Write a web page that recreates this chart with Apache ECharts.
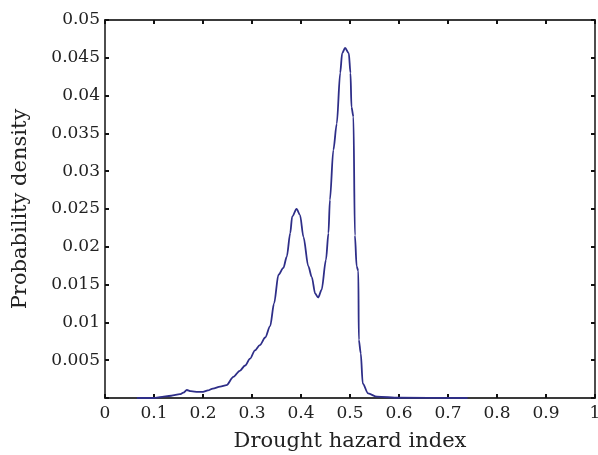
<!DOCTYPE html>
<html>
<head>
<meta charset="utf-8">
<script src="https://cdn.jsdelivr.net/npm/echarts@6/dist/echarts.min.js"></script>
<style>
html,body{margin:0;padding:0;background:#fff;}
#chart{width:598px;height:455px;}
</style>
</head>
<body>
<div id="chart"></div>
<script>
var hazardIndex = [0.065,0.10,0.112,0.135,0.153,0.160,0.167,0.175,0.19,0.20,0.21,0.22,0.235,0.248,0.262,0.275,0.286,0.296,0.306,0.316,0.327,0.337,0.345,0.354,0.364,0.371,0.378,0.382,0.391,0.398,0.405,0.415,0.422,0.429,0.435,0.442,0.451,0.456,0.459,0.466,0.473,0.480,0.484,0.490,0.4975,0.501,0.503,0.507,0.510,0.5136,0.517,0.518,0.522,0.526,0.537,0.555,0.6,0.74];
var density = [0,0,0.0001,0.0003,0.0005,0.0007,0.00106,0.0009,0.0008,0.0008,0.001,0.00125,0.0015,0.0017,0.0028,0.0036,0.0043,0.0052,0.0063,0.0070,0.0080,0.0095,0.0125,0.0163,0.0172,0.0187,0.0218,0.0240,0.0250,0.0242,0.0213,0.0174,0.0160,0.0138,0.0133,0.0143,0.0183,0.0218,0.0262,0.0328,0.0363,0.0430,0.0456,0.0463,0.0456,0.0430,0.0385,0.0372,0.0215,0.0174,0.0168,0.0077,0.0059,0.0019,0.0006,0.00017,0.00003,0];
var xTitle = 'Drought hazard index';
var yTitle = 'Probability density';

var pts = hazardIndex.map(function(x, i){ return [x, density[i]]; });
var font = "'DejaVu Serif', 'Liberation Serif', serif";
var axisColor = '#3a3a3a';

function fmtX(v){ return v === 0 ? '0' : String(Math.round(v*10)/10); }
function fmtY(v){ return v === 0 ? '' : String(Math.round(v*1000)/1000); }

var chart = echarts.init(document.getElementById('chart'), null, {renderer:'canvas'});
chart.setOption({
  animation:false,
  backgroundColor:'#fff',
  grid:{left:105, right:3, top:20, bottom:57, containLabel:false, outerBoundsMode:'none'},
  xAxis:[{
    type:'value', min:0, max:1, interval:0.1, position:'bottom',
    name:xTitle, nameLocation:'middle', nameGap:33,
    nameTextStyle:{fontFamily:font, fontSize:21, color:'#222'},
    axisLine:{show:true, lineStyle:{color:axisColor, width:1.8}},
    axisTick:{show:true, inside:true, length:4, lineStyle:{color:'#111', width:2}},
    axisLabel:{fontFamily:font, fontSize:17, color:'#222', margin:7, formatter:fmtX, showMaxLabel:true, showMinLabel:true},
    splitLine:{show:false}
  },{
    type:'value', min:0, max:1, interval:0.1, position:'top',
    axisLine:{show:true, onZero:false, lineStyle:{color:axisColor, width:1.8}},
    axisTick:{show:true, inside:true, length:4, lineStyle:{color:'#111', width:2}},
    axisLabel:{show:false}, splitLine:{show:false}
  }],
  yAxis:[{
    type:'value', min:0, max:0.05, interval:0.005, position:'left',
    name:yTitle, nameLocation:'middle', nameGap:74,
    nameTextStyle:{fontFamily:font, fontSize:21, color:'#222'},
    axisLine:{show:true, lineStyle:{color:axisColor, width:1.8}},
    axisTick:{show:true, inside:true, length:4, lineStyle:{color:'#111', width:2}},
    axisLabel:{fontFamily:font, fontSize:17, color:'#222', margin:5, formatter:fmtY, showMaxLabel:true},
    splitLine:{show:false}
  },{
    type:'value', min:0, max:0.05, interval:0.005, position:'right',
    axisLine:{show:true, onZero:false, lineStyle:{color:axisColor, width:1.8}},
    axisTick:{show:true, inside:true, length:4, lineStyle:{color:'#111', width:2}},
    axisLabel:{show:false}, splitLine:{show:false}
  }],
  series:[{
    type:'line', data:pts, xAxisIndex:0, yAxisIndex:0,
    showSymbol:false, smooth:0.3, smoothMonotone:'x',
    lineStyle:{color:'#2e2e88', width:1.8},
    z:3
  }]
});
</script>
</body>
</html>
